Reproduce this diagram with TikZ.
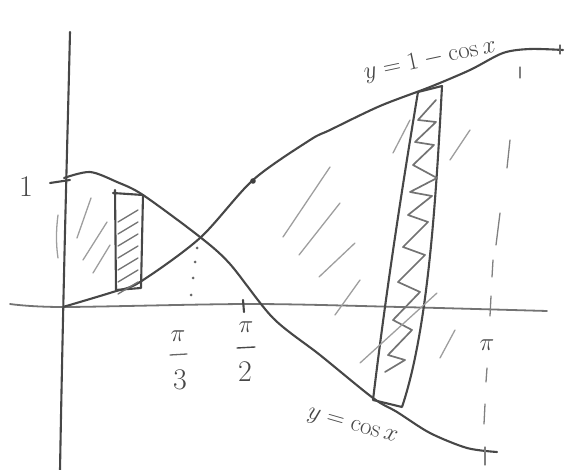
\documentclass[tikz,border=0pt]{standalone}
\begin{document}
\begin{tikzpicture}[x=1pt,y=-1pt,
  ink/.style={draw=black!72,line width=2.1pt,line cap=round,line join=round},
  axis/.style={draw=black!55,line width=1.8pt,line cap=round},
  hatch/.style={draw=black!38,line width=1.3pt,line cap=round},
  zig/.style={draw=black!55,line width=1.7pt,line cap=round,line join=round},
  lbl/.style={text=black!72,inner sep=0pt,font=\fontsize{30}{32}\selectfont},
  clbl/.style={text=black!72,inner sep=0pt,font=\fontsize{23}{26}\selectfont}]
\useasboundingbox (0,0) rectangle (568,470);
% axes
\draw[ink] (70,32) .. controls (68,120) and (64,250) .. (60,470);
\draw[axis] plot[smooth] coordinates {(10,304)(63,307)(250,304)(400,307)(547,311)};
% tick at 1
\draw[ink] (50,183) -- (70,180);
% curves
\draw[ink] plot[smooth] coordinates {(64,178)(90,172)(117,182)(143,195)(200,237)(230,264)(273,318)(320,355)(373,398)(397,412)(430,433)(467,448)(497,452)};
\draw[ink] plot[smooth] coordinates {(63,307)(113,292)(140,282)(200,238)(253,180)(310,140)(330,130)(380,106)(430,87)(470,70)(503,53)(530,49)(563,50)};
\fill[black!75] (253,181) circle (2.8pt);
% left strip
\draw[ink] (113,193) -- (143,195) -- (141,288) -- (116,290) -- (115,190);
\foreach \k in {0,...,6}
  \draw[hatch,draw=black!55] (118,{222+12*\k}) -- (138,{210+12*\k});
% right strip
\draw[ink] (418,92) -- (442,86) .. controls (436,200) and (428,330) .. (402,407) -- (373,400) .. controls (385,300) and (400,200) .. (418,92);
\draw[zig] (436,100)--(418,120)--(436,122)--(415,142)--(434,145)--(413,165)--(437,178)--(410,192)--(432,196)--(408,215)--(428,222)--(403,247)--(425,255)--(398,282)--(420,292)--(393,320)--(412,330)--(388,355)--(405,360)--(385,372);
% area hatch strokes
\draw[hatch] (91,198) -- (77,238);
\draw[hatch] (107,222) -- (83,260);
\draw[hatch] (110,245) -- (93,273);
\draw[hatch] (58,215) .. controls (56,230) and (56,245) .. (58,258);
\draw[hatch] (330,167) -- (283,237);
\draw[hatch] (340,203) -- (299,255);
\draw[hatch] (355,243) -- (319,277);
\draw[hatch] (360,280) -- (335,315);
\draw[hatch] (437,293) -- (360,363);
\draw[hatch] (455,330) -- (440,358);
\draw[hatch] (470,130) -- (450,160);
\draw[hatch] (410,120) -- (393,153);
% dashed line at pi
\draw[hatch,draw=black!50] (520,67) -- (520,78);
\draw[hatch,draw=black!50] (510,140) -- (507,168);
\draw[hatch,draw=black!50] (500,213) -- (496,245);
\draw[hatch,draw=black!50] (493,260) -- (492,277);
\draw[hatch,draw=black!50] (491,296) -- (490,316);
\draw[hatch,draw=black!50] (487,368) -- (486,382);
\draw[hatch,draw=black!50] (485,404) -- (484,424);
\draw[hatch,draw=black!50] (485,447) -- (485,465);
\draw[hatch,draw=black!60] (560,45) -- (560,54);
% dotted line at pi/3
\foreach \p in {(197,248),(195,262),(193,278),(191,295)}
  \fill[black!60] \p circle (1.5pt);
% pi/2 tick
\draw[ink] (243,300) -- (244,312);
% labels
\node[lbl] (one) at (26,187) {1};
\node[lbl] (p3) at (178,336) {$\pi$};
\draw[hatch,draw=black!60] (170,355) -- (187,354);
\node[lbl] (d3) at (180,380) {3};
\node[lbl] (p2) at (246,327) {$\pi$};
\draw[ink,line width=1.4pt] (237,348) -- (255,347);
\node[lbl] (d2) at (245,372) {2};
\node[lbl] (pi) at (487,345) {$\pi$};
\node[clbl,rotate=12] (lab1) at (430,60) {$y=1-\cos x$};
\node[clbl,rotate=-16] (lab2) at (352,427) {$y=\cos x$};
\end{tikzpicture}
\end{document}
